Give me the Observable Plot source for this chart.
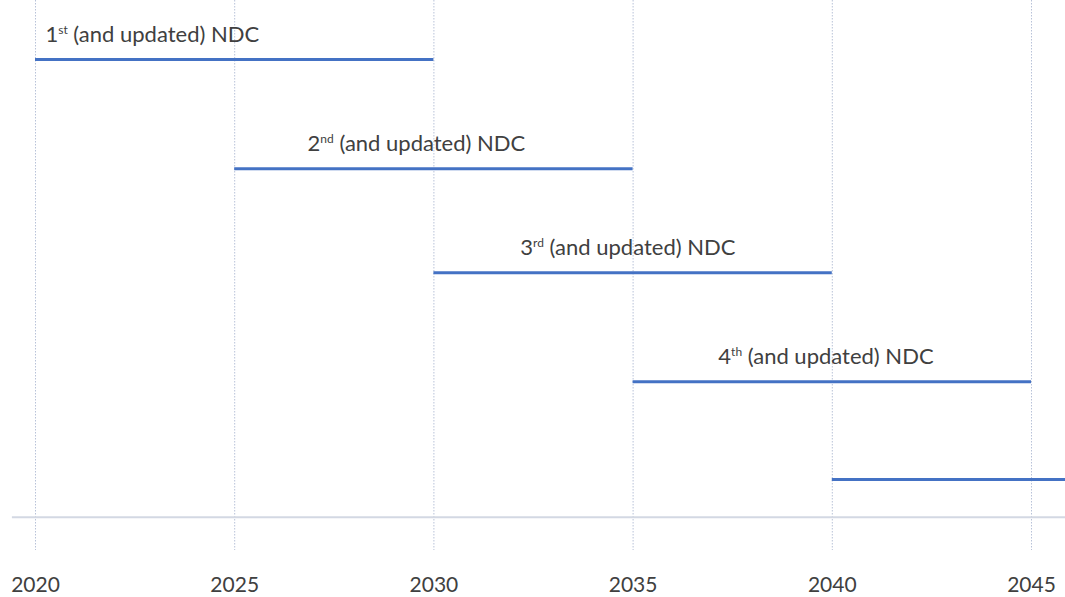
<!DOCTYPE html>
<html>
<head>
<meta charset="utf-8">
<script src="https://cdn.jsdelivr.net/npm/d3@7"></script>
<script src="https://cdn.jsdelivr.net/npm/@observablehq/plot@0.6"></script>
<style>
  html, body { margin: 0; padding: 0; background: #fff; }
  #chart svg { display: block; overflow: visible; }
</style>
</head>
<body>
<div id="chart"></div>
<script>
// ---- data ----
const ndcNames = ["1st", "2nd", "3rd", "4th", "5th"];
const labelTexts = ["1st (and updated) NDC", "2nd (and updated) NDC", "3rd (and updated) NDC", "4th (and updated) NDC", ""];
const startYears = [2020, 2025, 2030, 2035, 2040];
const endYears = [2030, 2035, 2040, 2045, 2046];
const rows = [1, 2.04, 3.03, 4.07, 5];
const labelStartYears = [2020.25, 2026.83, 2032.17, 2037.14, 2040];
const tickYears = [2020, 2025, 2030, 2035, 2040, 2045];
const baselineRow = 5.36;

const periods = ndcNames.map((n, i) => ({
  name: n, start: startYears[i], end: endYears[i], row: rows[i],
  label: labelTexts[i], labelX: labelStartYears[i]
}));

const textColor = "#404040";
const fontFamily = "Lato, 'Open Sans', sans-serif";

const chart = Plot.plot({
  width: 1065,
  height: 597,
  marginLeft: 35,
  marginRight: 34,
  marginTop: 0,
  marginBottom: 47,
  style: { fontFamily: fontFamily, background: "#fff", color: textColor },
  x: { domain: [2020, 2045] },
  y: { domain: [0.438, 5.676], reverse: true, axis: null },
  marks: [
    Plot.ruleX(tickYears, { stroke: "#b8c2d8", strokeWidth: 1, strokeDasharray: "1.5,1.5" }),
    Plot.ruleY([baselineRow], { x1: 2019.42, x2: 2046, stroke: "#d3d8e3", strokeWidth: 2 }),
    Plot.ruleY(periods, { y: "row", x1: "start", x2: "end", stroke: "#4472c4", strokeWidth: 3 }),
    Plot.text(periods.filter(d => d.label), {
      x: "labelX", y: "row", text: "label", textAnchor: "start", lineAnchor: "bottom",
      dy: -18, fontSize: 22, fill: textColor
    }),
    Plot.axisX({
      ticks: tickYears, tickSize: 0, tickPadding: 27, tickFormat: d => String(d),
      fontSize: 21, fill: textColor, anchor: "bottom"
    })
  ]
});

document.getElementById("chart").appendChild(chart);

// superscript ordinal suffixes
d3.select(chart).selectAll("text").each(function () {
  const el = d3.select(this);
  const t = this.textContent;
  const m = t.match(/^(\d)(st|nd|rd|th)( .*)$/);
  if (!m) return;
  el.text(null);
  el.append("tspan").text(m[1]);
  el.append("tspan").attr("font-size", "12px").attr("dy", "-8px").text(m[2]);
  el.append("tspan").attr("dy", "8px").text(m[3]);
});
</script>
</body>
</html>
